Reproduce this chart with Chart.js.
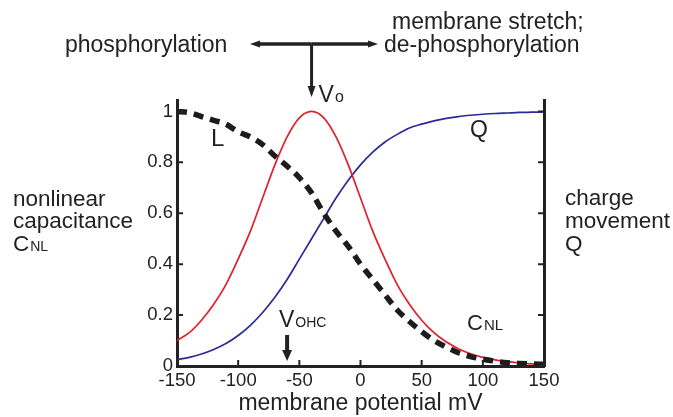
<!DOCTYPE html>
<html>
<head>
<meta charset="utf-8">
<script src="https://cdn.jsdelivr.net/npm/chart.js@4.4.1/dist/chart.umd.min.js"></script>
<style>
  html, body { margin: 0; padding: 0; background: #fff; }
  #wrap { width: 673px; height: 417px; }
</style>
</head>
<body>
<div id="wrap"><canvas id="membrane_chart" width="673" height="417"></canvas></div>
<script>
// membrane potential (mV), read every 10 mV off the figure
var voltages = [-150, -140, -130, -120, -110, -100, -90, -80, -70, -60, -50,
                -40, -30, -20, -10, 0, 10, 20, 30, 40, 50,
                60, 70, 80, 90, 100, 110, 120, 130, 140, 150];
// L, dashed black
var l_values = [1.0, 0.995, 0.98, 0.965, 0.95, 0.92, 0.90, 0.87, 0.825, 0.785, 0.74,
                0.68, 0.60, 0.53, 0.47, 0.40, 0.34, 0.28, 0.22, 0.175, 0.135,
                0.10, 0.075, 0.052, 0.037, 0.027, 0.019, 0.013, 0.010, 0.008, 0.007];
// C_NL, red
var cnl_values = [0.10, 0.131, 0.18, 0.243, 0.32, 0.42, 0.53, 0.66, 0.79, 0.90, 0.975,
                  1.0, 0.975, 0.90, 0.79, 0.66, 0.53, 0.42, 0.32, 0.243, 0.18,
                  0.131, 0.095, 0.068, 0.048, 0.034, 0.024, 0.017, 0.012, 0.008, 0.006];
// Q, blue
var q_values = [0.025, 0.034, 0.047, 0.065, 0.088, 0.12, 0.16, 0.21, 0.27, 0.34, 0.42,
                0.50, 0.58, 0.66, 0.73, 0.79, 0.84, 0.88, 0.91, 0.935, 0.95,
                0.963, 0.973, 0.98, 0.985, 0.989, 0.992, 0.994, 0.996, 0.997, 0.998];

var x_ticks = [-150, -100, -50, 0, 50, 100, 150];
var y_ticks = [0, 0.2, 0.4, 0.6, 0.8, 1];
var v_o = -40;    // peak voltage
var v_ohc = -60;  // resting potential marker

var ink = "#222";
var font_name = "'Liberation Sans', Arial, sans-serif";

function to_points(ys){
    return voltages.map(function(v, i){ return {x: v, y: ys[i]}; });
}

function arrow(ctx, x1, y1, x2, y2, head_len, head_w){
    var ang = Math.atan2(y2 - y1, x2 - x1);
    var bx = x2 - head_len * Math.cos(ang);
    var by = y2 - head_len * Math.sin(ang);
    ctx.beginPath();
    ctx.moveTo(x1, y1);
    ctx.lineTo(bx, by);
    ctx.stroke();
    ctx.beginPath();
    ctx.moveTo(x2, y2);
    ctx.lineTo(bx + head_w * Math.sin(ang), by - head_w * Math.cos(ang));
    ctx.lineTo(bx - head_w * Math.sin(ang), by + head_w * Math.cos(ang));
    ctx.closePath();
    ctx.fill();
}

function sub_text(ctx, main, sub, x, y, main_size, sub_size){
    ctx.font = main_size + "px " + font_name;
    ctx.fillText(main, x, y);
    var w = ctx.measureText(main).width;
    ctx.font = sub_size + "px " + font_name;
    ctx.fillText(sub, x + w + 1, y);
}

var decor_plugin = {
    id: "decor",
    afterDraw: function(chart){
        var ctx = chart.ctx;
        var xs = chart.scales.x, ys = chart.scales.y;
        var area = chart.chartArea;
        ctx.save();
        ctx.strokeStyle = ink;
        ctx.fillStyle = ink;

        // inward tick marks
        ctx.lineWidth = 2;
        ctx.beginPath();
        x_ticks.forEach(function(v){
            var px = xs.getPixelForValue(v);
            ctx.moveTo(px, area.bottom);
            ctx.lineTo(px, area.bottom - 6);
        });
        y_ticks.forEach(function(v){
            var py = ys.getPixelForValue(v);
            ctx.moveTo(area.left, py);
            ctx.lineTo(area.left + 6, py);
            ctx.moveTo(area.right, py);
            ctx.lineTo(area.right - 6, py);
        });
        ctx.stroke();

        // top arrows
        var cx = xs.getPixelForValue(v_o);
        ctx.lineWidth = 3.5;
        arrow(ctx, cx, 44, 250, 44, 10, 3.5);
        arrow(ctx, cx, 44, 378, 44, 10, 3.5);
        ctx.lineWidth = 3;
        arrow(ctx, cx, 44, cx, 97, 11, 4);

        // V_OHC arrow
        var hx = xs.getPixelForValue(v_ohc);
        ctx.lineWidth = 4;
        arrow(ctx, hx, 335, hx, 361, 11, 5);

        ctx.textBaseline = "alphabetic";
        ctx.textAlign = "left";
        ctx.font = "23px " + font_name;
        ctx.fillText("phosphorylation", 65, 52);
        ctx.fillText("membrane stretch;", 392, 29);
        ctx.fillText("de-phosphorylation", 384, 52);

        sub_text(ctx, "V", "o", cx + 7, 102, 23, 16);

        ctx.font = "22.5px " + font_name;
        ctx.fillText("nonlinear", 13, 206);
        ctx.fillText("capacitance", 13, 228);
        sub_text(ctx, "C", "NL", 13, 251, 22.5, 14);
        ctx.font = "22.5px " + font_name;
        ctx.fillText("charge", 565, 205);
        ctx.fillText("movement", 565, 228);
        ctx.fillText("Q", 565, 251);

        ctx.font = "24px " + font_name;
        ctx.fillText("L", 211, 146);
        ctx.font = "23px " + font_name;
        ctx.fillText("Q", 470, 137);
        sub_text(ctx, "C", "NL", 467, 330, 22, 15);
        sub_text(ctx, "V", "OHC", 279, 327, 23, 14);
        ctx.restore();
    }
};

new Chart(document.getElementById("membrane_chart"), {
    type: "line",
    data: {
        datasets: [{
            label: "L",
            data: to_points(l_values),
            borderColor: "#1c1c1c",
            borderWidth: 5.5,
            borderDash: [10, 7],
            borderCapStyle: "butt",
            cubicInterpolationMode: "monotone",
            pointRadius: 0,
            fill: false
        }, {
            label: "CNL",
            data: to_points(cnl_values),
            borderColor: "#e0202c",
            borderWidth: 1.7,
            cubicInterpolationMode: "monotone",
            pointRadius: 0,
            fill: false
        }, {
            label: "Q",
            data: to_points(q_values),
            borderColor: "#2b2b98",
            borderWidth: 1.7,
            cubicInterpolationMode: "monotone",
            pointRadius: 0,
            fill: false
        }]
    },
    options: {
        responsive: false,
        animation: false,
        devicePixelRatio: 1,
        layout: { padding: { top: 100, right: 129, left: 0, bottom: 0 } },
        plugins: {
            legend: { display: false },
            tooltip: { enabled: false }
        },
        scales: {
            x: {
                type: "linear",
                min: -150,
                max: 150,
                afterBuildTicks: function(scale){
                    scale.ticks = x_ticks.map(function(v){ return {value: v}; });
                },
                afterFit: function(scale){ scale.height = 51; },
                grid: { display: false, drawTicks: false },
                border: { display: true, color: ink, width: 3 },
                ticks: {
                    color: ink,
                    padding: 4,
                    maxRotation: 0,
                    font: { family: font_name, size: 18.5 },
                    callback: function(v){ return String(v); }
                },
                title: {
                    display: true,
                    text: "membrane potential mV",
                    color: ink,
                    padding: { top: 0, bottom: 0 },
                    font: { family: font_name, size: 23 }
                }
            },
            y: {
                min: 0,
                max: 1.045,
                afterBuildTicks: function(scale){
                    scale.ticks = y_ticks.map(function(v){ return {value: v}; });
                },
                afterFit: function(scale){ scale.width = 177; },
                grid: { display: false, drawTicks: false },
                border: { display: true, color: ink, width: 3 },
                ticks: {
                    color: ink,
                    padding: 4,
                    font: { family: font_name, size: 18.5 },
                    callback: function(v){ return String(v); }
                }
            },
            y2: {
                position: "right",
                min: 0,
                max: 1.045,
                afterFit: function(scale){ scale.width = 0; },
                grid: { display: false, drawTicks: false },
                border: { display: true, color: ink, width: 3 },
                ticks: { display: false }
            }
        }
    },
    plugins: [decor_plugin]
});
</script>
</body>
</html>
